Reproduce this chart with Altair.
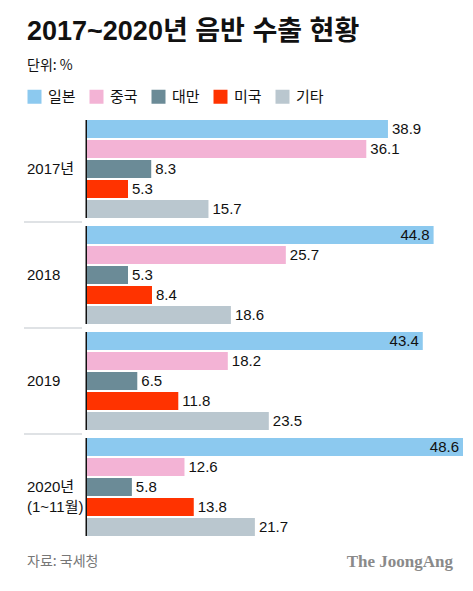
import altair as alt
import pandas as pd

years = ["2017", "2018", "2019", "2020"]
year_labels = ["2017년", "2018", "2019", "2020년\n(1~11월)"]
countries = ["일본", "중국", "대만", "미국", "기타"]
colors = ["#8CC9EF", "#F3B3D5", "#6B8B97", "#FF3300", "#BAC7CF"]
japan = [38.9, 44.8, 43.4, 48.6]
china = [36.1, 25.7, 18.2, 12.6]
taiwan = [8.3, 5.3, 6.5, 5.8]
usa = [5.3, 8.4, 11.8, 13.8]
other = [15.7, 18.6, 23.5, 21.7]

series = [japan, china, taiwan, usa, other]
rows = []
for ci, c in enumerate(countries):
    for yi, y in enumerate(years):
        rows.append({"year": y, "country": c, "value": series[ci][yi], "ci": ci})
df = pd.DataFrame(rows)
ydf = pd.DataFrame({"year": years, "label": year_labels, "last": [0, 0, 0, 1]})

FONT = "Liberation Sans, Noto Sans CJK KR, sans-serif"
XMAX = 48.6

x = alt.X("value:Q", scale=alt.Scale(domain=[0, XMAX], nice=False, zero=True), axis=None)
y = alt.Y("year:N", sort=years, scale=alt.Scale(paddingInner=8 / 106, paddingOuter=0), axis=None)
yo = alt.YOffset("country:N", sort=countries, scale=alt.Scale(paddingInner=0.1, paddingOuter=0))

base = alt.Chart(df)

bars = base.mark_bar().encode(
    x=x, y=y, yOffset=yo,
    color=alt.Color("country:N", sort=countries,
                    scale=alt.Scale(domain=countries, range=colors),
                    legend=alt.Legend(orient="none", legendX=-60, legendY=-31, direction="horizontal",
                                      title=None, symbolType="square", symbolSize=196,
                                      symbolStrokeWidth=0, symbolOpacity=1, labelFont=FONT,
                                      labelFontSize=15, labelColor="#111", labelOffset=6,
                                      columnPadding=13)),
)

out_labels = base.transform_filter("datum.value <= 42").mark_text(
    align="left", baseline="middle", dx=4, fontSize=15, font=FONT, color="#111"
).encode(x=x, y=y, yOffset=yo, text=alt.Text("value:Q", format=".1f"))

in_labels = base.transform_filter("datum.value > 42").mark_text(
    align="right", baseline="middle", dx=-4, fontSize=15, font=FONT, color="#111"
).encode(x=x, y=y, yOffset=yo, text=alt.Text("value:Q", format=".1f"))

ybase = alt.Chart(ydf)
axis_line = ybase.mark_rect(color="#111").encode(
    y=y, x=alt.value(-1.5), x2=alt.value(0)
)
year_text = ybase.mark_text(
    align="left", baseline="middle", fontSize=15, font=FONT, color="#111", lineBreak="\n", lineHeight=20
).encode(y=y, x=alt.value(-60), text="label:N")

seps = ybase.transform_filter("datum.last == 0").mark_rule(
    color="#D5D9DC", strokeWidth=1.5, yOffset=4
).encode(y=alt.Y("year:N", sort=years, bandPosition=1, axis=None), x=alt.value(-63), x2=alt.value(-5))

foot = pd.DataFrame({"t": ["자료: 국세청"]})
source = alt.Chart(foot).mark_text(
    align="left", baseline="middle", fontSize=14, font="Noto Sans CJK KR", color="#777"
).encode(x=alt.value(-60), y=alt.value(442), text="t:N")
brand = alt.Chart(pd.DataFrame({"t": ["The JoongAng"]})).mark_text(
    align="right", baseline="middle", fontSize=17, font="Liberation Serif", fontWeight="bold", color="#8A8A8A"
).encode(x=alt.value(366), y=alt.value(442), text="t:N")

chart = alt.layer(bars, out_labels, in_labels, axis_line, year_text, seps, source, brand).properties(
    width=376, height=416,
    autosize=alt.AutoSizeParams(type="none"),
    padding={"left": 79, "top": 112, "right": 2, "bottom": 47},
    title=alt.TitleParams(
        "2017~2020년 음반 수출 현황", subtitle="단위: %",
        anchor="start", frame="group", dx=-60, offset=15,
        font="Liberation Sans, Noto Sans CJK KR, sans-serif", fontSize=27, fontWeight="bold", color="#111",
        subtitleFont="Noto Sans CJK KR", subtitleFontSize=14, subtitleColor="#111", subtitlePadding=13,
    ),
).configure_view(stroke=None)

chart.save("out.html", embed_options={"renderer": "svg", "actions": False})
